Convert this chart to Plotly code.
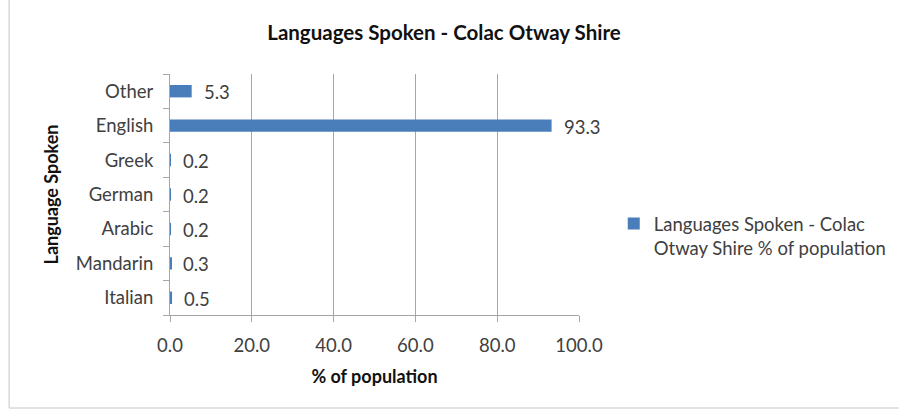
import plotly.graph_objects as go

# Languages spoken at home, Colac Otway Shire (% of population)
languages = ["Italian", "Mandarin", "Arabic", "German", "Greek", "English", "Other"]
percent = [0.5, 0.3, 0.2, 0.2, 0.2, 93.3, 5.3]
x_ticks = [0, 20, 40, 60, 80, 100]
x_tick_labels = ["0.0", "20.0", "40.0", "60.0", "80.0", "100.0"]

series_name = "Languages Spoken - Colac<br>Otway Shire % of population"
bar_color = "#4a7ebb"
text_color = "#404040"
grid_color = "#a6a6a6"
font_family = "Lato, 'Open Sans', sans-serif"

W, H = 904, 411
ml, mr, mt, mb = 170, 322, 74, 96
pw, ph = W - ml - mr, H - mt - mb

fig = go.Figure()
fig.add_trace(go.Bar(
    x=percent,
    y=languages,
    orientation="h",
    marker=dict(color=bar_color, line=dict(width=0)),
    name=series_name,
    showlegend=True,
    hoverinfo="x+y",
))

# value labels just beyond each bar end
for lang, val in zip(languages, percent):
    fig.add_annotation(
        x=val, y=lang, xref="x", yref="y",
        text=f"{val:.1f}", showarrow=False,
        xanchor="left", xshift=10, yshift=-1,
        font=dict(family=font_family, size=18.5, color=text_color),
    )

# light outer frame of the chart area
def px_x(px):
    return (px - ml) / pw

def px_y(py):
    return (H - mb - py) / ph

frame = dict(type="line", xref="paper", yref="paper",
             line=dict(color="#d9d9d9", width=1.5), layer="below")
fig.add_shape(x0=px_x(8), x1=px_x(8), y0=px_y(0), y1=px_y(408), **frame)
fig.add_shape(x0=px_x(8), x1=px_x(904), y0=px_y(408), y1=px_y(408), **frame)

fig.update_layout(
    width=W, height=H,
    margin=dict(l=ml, r=mr, t=mt, b=mb),
    paper_bgcolor="white",
    plot_bgcolor="white",
    bargap=0.64,
    font=dict(family=font_family, size=18, color=text_color),
    title=dict(
        text="<b>Languages Spoken - Colac Otway Shire</b>",
        x=(444) / W, xanchor="center",
        y=1 - 33 / H, yanchor="middle",
        font=dict(family=font_family, size=20.5, color="#111111"),
    ),
    xaxis=dict(
        range=[0, 100],
        tickvals=x_ticks,
        ticktext=x_tick_labels,
        showgrid=True, gridcolor=grid_color, gridwidth=1,
        zeroline=False,
        showline=True, linecolor=grid_color, linewidth=1,
        ticks="outside", ticklen=6, tickcolor=grid_color,
        tickfont=dict(size=18.5, color=text_color),
        ticklabelstandoff=8,
        title=dict(text="<b>% of population</b>", standoff=15,
                   font=dict(size=18, color="#111111")),
        fixedrange=True,
    ),
    yaxis=dict(
        categoryorder="array", categoryarray=languages,
        showgrid=False,
        showline=True, linecolor=grid_color, linewidth=1,
        ticks="outside", ticklen=6, tickcolor=grid_color,
        tickson="boundaries",
        tickfont=dict(size=18.5, color=text_color),
        ticklabelstandoff=12,
        title=dict(text="<b>Language Spoken</b>", standoff=12,
                   font=dict(size=18, color="#111111")),
        fixedrange=True,
    ),
    legend=dict(
        x=px_x(617), y=px_y(236), xanchor="left", yanchor="middle",
        valign="top",
        font=dict(size=18.5, color=text_color),
        bgcolor="rgba(0,0,0,0)",
        itemwidth=30,
    ),
)

fig.write_html("out.html")
